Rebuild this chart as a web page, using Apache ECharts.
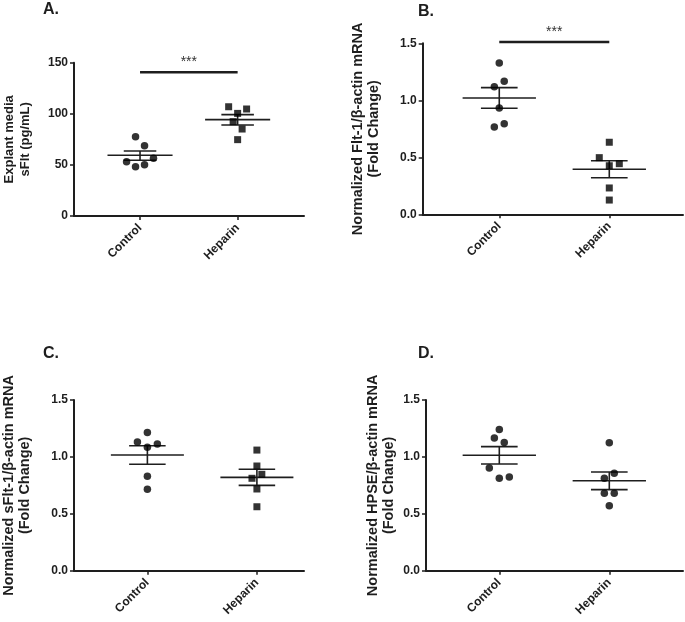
<!DOCTYPE html>
<html><head><meta charset="utf-8">
<script src="https://cdn.jsdelivr.net/npm/echarts@6/dist/echarts.min.js"></script>
<style>html,body{margin:0;padding:0;background:#fff}#c{width:685px;height:622px}</style>
</head><body><div id="c"></div>
<script>
const categories = ['Control', 'Heparin'];

// Panel A: Explant media sFlt (pg/mL)
const aControl = [77.6, 68.8, 53.1, 48.2, 50.2, 56.4];
const aControlJitter = [-0.046, 0.046, -0.138, -0.046, 0.046, 0.138];
const aHeparin = [106.9, 100.4, 104.7, 92.3, 85.1, 74.7];
const aHeparinJitter = [-0.092, 0, 0.092, -0.046, 0.046, 0];
const aMean = [59.4, 94.3];
const aSemLow = [54.5, 89.0];
const aSemHigh = [63.6, 99.2];
const aSig = 140.6;

// Panel B: Flt-1
const bControl = [1.327, 1.119, 1.167, 0.932, 0.766, 0.795];
const bControlJitter = [0, -0.045, 0.045, 0, -0.045, 0.045];
const bHeparin = [0.632, 0.497, 0.426, 0.444, 0.231, 0.125];
const bHeparinJitter = [0, -0.091, 0, 0.091, 0, 0];
const bMean = [1.020, 0.395];
const bSemLow = [0.930, 0.321];
const bSemHigh = [1.111, 0.470];
const bSig = 1.511;

// Panel C: sFlt-1
const cControl = [1.214, 1.132, 1.113, 1.084, 0.829, 0.715];
const cControlJitter = [0, -0.091, 0.091, 0, 0, 0];
const cHeparin = [1.060, 0.920, 0.812, 0.847, 0.718, 0.562];
const cHeparinJitter = [0, 0, -0.045, 0.045, 0, 0];
const cMean = [1.017, 0.820];
const cSemLow = [0.935, 0.750];
const cSemHigh = [1.098, 0.891];

// Panel D: HPSE
const dControl = [1.240, 1.166, 1.126, 0.902, 0.812, 0.823];
const dControlJitter = [0, -0.045, 0.045, -0.091, 0, 0.091];
const dHeparin = [1.125, 0.856, 0.812, 0.680, 0.680, 0.571];
const dHeparinJitter = [0, 0.045, -0.045, -0.045, 0.045, 0];
const dMean = [1.015, 0.791];
const dSemLow = [0.938, 0.712];
const dSemHigh = [1.090, 0.867];

const yTicksA = [0, 50, 100, 150];
const yTicksFold = [0, 0.5, 1.0, 1.5];

const INK = '#1e1e1e';
const FONT = '"Liberation Sans", Arial, sans-serif';

const panels = [
  { letter: 'A.', lx: 43, ly: 2, grid: {left: 73, top: 62.7, width: 231, height: 153.3}, xMin: 0.3235, xMax: 2.68,
    yTicks: yTicksA, dec: 0, name: 'Explant media\nsFlt (pg/mL)', nameGap: 41, nameSize: 13,
    ctrl: aControl, ctrlJ: aControlJitter, hep: aHeparin, hepJ: aHeparinJitter, hepSym: 'rect',
    mean: aMean, lo: aSemLow, hi: aSemHigh, sig: aSig },
  { letter: 'B.', lx: 418, ly: 4, grid: {left: 422.7, top: 43.3, width: 260.3, height: 171}, xMin: 0.304, xMax: 2.67,
    yTicks: yTicksFold, dec: 1, name: 'Normalized Flt-1/β-actin mRNA\n(Fold Change)', nameGap: 41, nameSize: 14.5,
    ctrl: bControl, ctrlJ: bControlJitter, hep: bHeparin, hepJ: bHeparinJitter, hepSym: 'rect',
    mean: bMean, lo: bSemLow, hi: bSemHigh, sig: bSig },
  { letter: 'C.', lx: 43, ly: 346, grid: {left: 73, top: 400, width: 231, height: 170.7}, xMin: 0.33, xMax: 2.43,
    yTicks: yTicksFold, dec: 1, name: 'Normalized sFlt-1/β-actin mRNA\n(Fold Change)', nameGap: 41, nameSize: 14.5,
    ctrl: cControl, ctrlJ: cControlJitter, hep: cHeparin, hepJ: cHeparinJitter, hepSym: 'rect',
    mean: cMean, lo: cSemLow, hi: cSemHigh, sig: null },
  { letter: 'D.', lx: 418, ly: 346, grid: {left: 426, top: 400, width: 257, height: 170.7}, xMin: 0.3336, xMax: 2.67,
    yTicks: yTicksFold, dec: 1, name: 'Normalized HPSE/β-actin mRNA\n(Fold Change)', nameGap: 29, nameSize: 14.5,
    ctrl: dControl, ctrlJ: dControlJitter, hep: dHeparin, hepJ: dHeparinJitter, hepSym: 'circle',
    mean: dMean, lo: dSemLow, hi: dSemHigh, sig: null }
];

function renderErr(params, api) {
  const x = api.value(0), m = api.value(1), lo = api.value(2), hi = api.value(3);
  const style = {stroke: INK, lineWidth: 1.6};
  const seg = (x1, y1, x2, y2) => {
    const a = api.coord([x1, y1]), b = api.coord([x2, y2]);
    return {type: 'line', shape: {x1: a[0], y1: a[1], x2: b[0], y2: b[1]}, style};
  };
  return {type: 'group', children: [
    seg(x - 1/3, m, x + 1/3, m),
    seg(x - 1/6, hi, x + 1/6, hi),
    seg(x - 1/6, lo, x + 1/6, lo),
    seg(x, lo, x, hi)
  ]};
}
function renderSig(params, api) {
  const a = api.coord([api.value(0), api.value(2)]);
  const b = api.coord([api.value(1), api.value(2)]);
  return {type: 'group', children: [
    {type: 'line', shape: {x1: a[0], y1: a[1], x2: b[0], y2: b[1]}, style: {stroke: INK, lineWidth: 2.6}},
    {type: 'text', x: (a[0] + b[0]) / 2, y: a[1] - 3, style: {text: '***', fill: '#333', font: '14px ' + FONT, textAlign: 'center', textVerticalAlign: 'bottom'}}
  ]};
}

const option = {
  backgroundColor: '#fff',
  animation: false,
  title: panels.map(p => ({text: p.letter, left: p.lx, top: p.ly, padding: 0,
    textStyle: {fontSize: 16, fontWeight: 'bold', color: INK, fontFamily: FONT}})),
  grid: panels.map(p => Object.assign({containLabel: false}, p.grid)),
  xAxis: panels.map((p, i) => ({
    type: 'value', gridIndex: i, min: p.xMin, max: p.xMax, splitLine: {show: false},
    axisLine: {show: true, onZero: false, lineStyle: {color: INK, width: 2}},
    axisTick: {show: true, length: 4, lineStyle: {color: INK, width: 1.5}, customValues: [1, 2]},
    axisLabel: {show: true, rotate: 45, margin: 10, customValues: [1, 2],
      fontSize: 12, fontWeight: 'bold', color: INK, fontFamily: FONT,
      formatter: v => { const k = Math.round(v); return Math.abs(v - k) < 1e-6 && categories[k - 1] ? categories[k - 1] : ''; }}
  })),
  yAxis: panels.map((p, i) => ({
    type: 'value', gridIndex: i, min: p.yTicks[0], max: p.yTicks[p.yTicks.length - 1],
    interval: p.yTicks[1] - p.yTicks[0], splitLine: {show: false},
    name: p.name, nameLocation: 'middle', nameGap: p.nameGap,
    nameTextStyle: {fontSize: p.nameSize, fontWeight: 'bold', color: INK, fontFamily: FONT, lineHeight: 16, align: 'center'},
    axisLine: {show: true, lineStyle: {color: INK, width: 2}},
    axisTick: {show: true, length: 4, lineStyle: {color: INK, width: 1.5}},
    axisLabel: {margin: 6, fontSize: 12, fontWeight: 'bold', color: INK, fontFamily: FONT,
      formatter: v => v.toFixed(p.dec)}
  })),
  series: []
};

panels.forEach((p, i) => {
  option.series.push({
    type: 'custom', xAxisIndex: i, yAxisIndex: i, renderItem: renderErr, z: 2,
    data: categories.map((c, k) => [k + 1, p.mean[k], p.lo[k], p.hi[k]])
  });
  option.series.push({
    type: 'scatter', xAxisIndex: i, yAxisIndex: i, symbol: 'circle', symbolSize: 7.5, z: 3,
    itemStyle: {color: '#000'}, data: p.ctrl.map((v, j) => [1 + p.ctrlJ[j], v])
  });
  option.series.push({
    type: 'scatter', xAxisIndex: i, yAxisIndex: i, symbol: p.hepSym, symbolSize: p.hepSym === 'rect' ? 7 : 7.5, z: 3,
    itemStyle: {color: '#000'}, data: p.hep.map((v, j) => [2 + p.hepJ[j], v])
  });
  if (p.sig !== null) {
    option.series.push({
      type: 'custom', xAxisIndex: i, yAxisIndex: i, renderItem: renderSig, z: 2,
      data: [[1, 2, p.sig]]
    });
  }
});

const chart = echarts.init(document.getElementById('c'), null, {renderer: 'canvas'});
chart.setOption(option);
</script>
</body></html>
